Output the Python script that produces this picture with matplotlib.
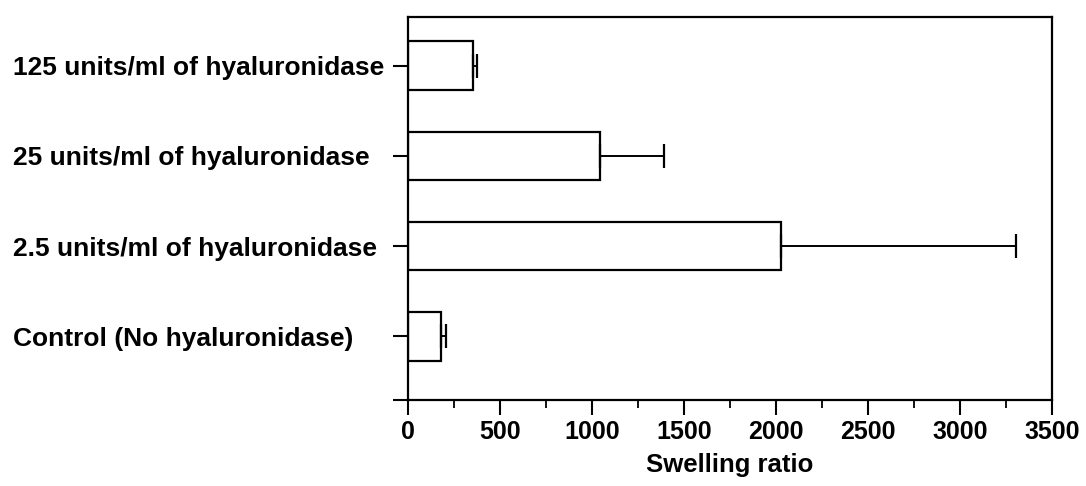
import numpy as np
import matplotlib
matplotlib.use('Agg')
import matplotlib.pyplot as plt

plt.rcParams['font.family'] = ['Liberation Sans', 'DejaVu Sans']
plt.rcParams['font.weight'] = 'bold'

# bottom to top
labels = ['Control (No hyaluronidase)', '2.5 units/ml of hyaluronidase',
          '25 units/ml of hyaluronidase', '125 units/ml of hyaluronidase']
means = [180, 2027, 1047, 353]
errs = [29, 1279, 345, 21]
xticks = [0, 500, 1000, 1500, 2000, 2500, 3000, 3500]

W, H = 1086, 486
fig = plt.figure(figsize=(W/100, H/100), dpi=100)
ax = fig.add_axes([407.7/W, 1-399.5/H, (1052-407.7)/W, (399.5-17)/H])

pos = np.arange(len(labels))
ax.barh(pos, means, height=0.54, color='white', edgecolor='black', linewidth=1.6, zorder=2)
ax.errorbar(means, pos, xerr=[np.zeros(len(errs)), errs], fmt='none',
            ecolor='black', elinewidth=1.4, capsize=8.3, capthick=1.6, zorder=3)

ax.set_xlim(0, 3500)
ax.set_ylim(-0.7, 3.54)
ax.set_xticks(xticks)
ax.set_xticks(np.arange(250, 3500, 500), minor=True)
ax.tick_params(axis='x', which='major', length=11, width=1.5, labelsize=18, pad=3.8)
ax.tick_params(axis='x', which='minor', length=5.5, width=1.3)

# y ticks at categories plus one at the bottom edge
ax.set_yticks(list(pos) + [-0.7])
ax.set_yticklabels(labels + [''])
tick_len = 11
ax.tick_params(axis='y', length=tick_len, width=1.5, labelsize=19,
               pad=(407.7-13)/(100/72) - tick_len)
for t in ax.get_yticklabels():
    t.set_horizontalalignment('left')

for s in ax.spines.values():
    s.set_linewidth(1.6)

ax.set_xlabel('Swelling ratio', fontsize=18.5, fontweight='bold', labelpad=6.5)

fig.savefig('out.png', dpi=100)
